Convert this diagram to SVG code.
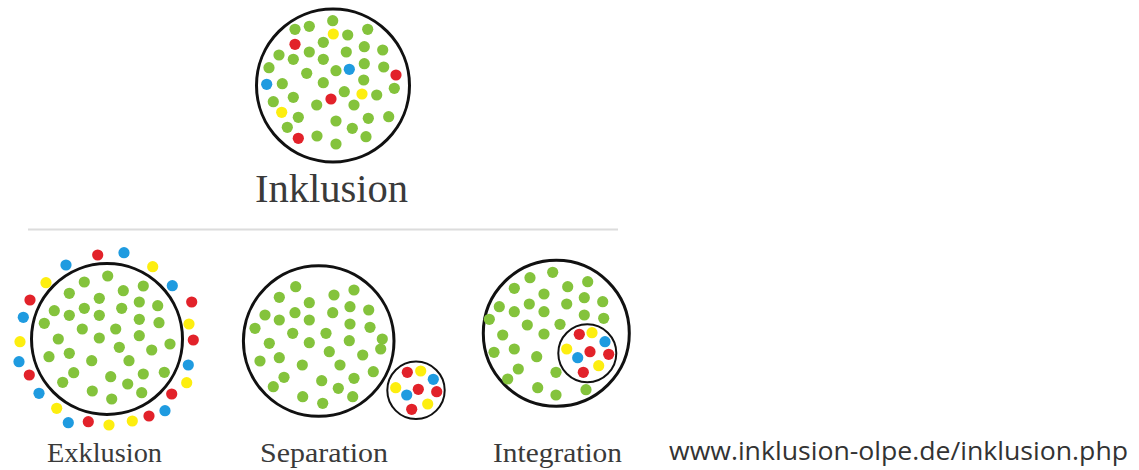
<svg xmlns="http://www.w3.org/2000/svg" width="1139" height="470" viewBox="0 0 1139 470">
<style>
.ring{fill:none;stroke:#111;stroke-width:3}
.ring2{fill:none;stroke:#111;stroke-width:2}
.g{fill:#84c33c}
.r{fill:#e2222a}
.y{fill:#fdee0f}
.b{fill:#1f9be0}
.lbl{font-family:"Liberation Serif","DejaVu Serif",serif;fill:#3a3a3a}
.url{font-family:"Open Sans","Noto Sans","Liberation Sans",sans-serif;fill:#333;font-size:26px}
</style>
<defs>
<circle id="d" r="5.6"/>
</defs>
<rect width="1139" height="470" fill="#fff"/>

<g id="inklusion">
<circle class="ring" cx="333" cy="85.5" r="76.5"/>
<g class="g">
<use href="#d" x="332.7" y="20.7"/><use href="#d" x="295" y="29.3"/><use href="#d" x="309.3" y="26.3"/><use href="#d" x="367.7" y="29.3"/>
<use href="#d" x="347.7" y="35"/><use href="#d" x="323.3" y="42.3"/><use href="#d" x="364.3" y="46.7"/><use href="#d" x="382.7" y="50"/>
<use href="#d" x="279" y="55"/><use href="#d" x="309.3" y="52"/><use href="#d" x="346.3" y="52"/><use href="#d" x="293.3" y="59.3"/>
<use href="#d" x="323.3" y="59.3"/><use href="#d" x="269" y="67.7"/><use href="#d" x="364.3" y="63.7"/><use href="#d" x="383.7" y="67"/>
<use href="#d" x="336" y="70.7"/><use href="#d" x="306.7" y="73.3"/><use href="#d" x="282.3" y="83.7"/><use href="#d" x="363.7" y="80"/>
<use href="#d" x="323.3" y="82.7"/><use href="#d" x="394.3" y="88.3"/><use href="#d" x="344.3" y="91.7"/><use href="#d" x="293.3" y="97.3"/>
<use href="#d" x="273.3" y="101.7"/><use href="#d" x="376.7" y="95"/><use href="#d" x="316.7" y="105"/><use href="#d" x="354" y="105"/>
<use href="#d" x="298.3" y="117.3"/><use href="#d" x="336" y="121"/><use href="#d" x="368.3" y="118.3"/><use href="#d" x="388.7" y="116.7"/>
<use href="#d" x="287.3" y="127.3"/><use href="#d" x="352.3" y="128.3"/><use href="#d" x="317" y="136"/><use href="#d" x="366" y="136.7"/>
<use href="#d" x="336" y="144"/>
</g>
<g class="r"><use href="#d" x="295" y="44.3"/><use href="#d" x="396" y="75"/><use href="#d" x="331" y="99"/><use href="#d" x="298.3" y="138.3"/></g>
<g class="y"><use href="#d" x="333.3" y="34"/><use href="#d" x="362" y="94"/><use href="#d" x="281.7" y="112.3"/></g>
<g class="b"><use href="#d" x="349.3" y="69.3"/><use href="#d" x="266.7" y="84.3"/></g>
<text class="lbl" x="255" y="202" font-size="40" textLength="153" lengthAdjust="spacingAndGlyphs">Inklusion</text>
</g>

<line id="divider" x1="28" y1="229.5" x2="618" y2="229.5" stroke="#dcdcdc" stroke-width="2"/>

<g id="exklusion">
<circle class="ring" cx="107" cy="339" r="75.5"/>
<g class="g">
<use href="#d" x="107.7" y="276"/><use href="#d" x="84.3" y="282"/><use href="#d" x="143.3" y="286"/><use href="#d" x="69.3" y="293.3"/>
<use href="#d" x="123.3" y="290.7"/><use href="#d" x="99.3" y="298.3"/><use href="#d" x="139.3" y="302"/><use href="#d" x="157.7" y="305.7"/>
<use href="#d" x="54.3" y="310.7"/><use href="#d" x="84.3" y="308.3"/><use href="#d" x="121.7" y="308.3"/><use href="#d" x="69.3" y="315.3"/>
<use href="#d" x="99.3" y="315.3"/><use href="#d" x="139.3" y="319.3"/><use href="#d" x="159" y="322.7"/><use href="#d" x="44.3" y="323.3"/>
<use href="#d" x="82.3" y="329"/><use href="#d" x="115.7" y="329"/><use href="#d" x="58.3" y="339"/><use href="#d" x="99.3" y="338"/>
<use href="#d" x="139.3" y="335.7"/><use href="#d" x="170" y="344"/><use href="#d" x="119.3" y="347.3"/><use href="#d" x="151.7" y="350"/>
<use href="#d" x="69.3" y="353.3"/><use href="#d" x="49" y="356.7"/><use href="#d" x="91.7" y="360.7"/><use href="#d" x="129" y="360.7"/>
<use href="#d" x="73.7" y="372.7"/><use href="#d" x="164.3" y="372.3"/><use href="#d" x="143.3" y="374"/><use href="#d" x="110.7" y="376.7"/>
<use href="#d" x="62.7" y="382.3"/><use href="#d" x="127.7" y="384"/><use href="#d" x="92.3" y="391"/><use href="#d" x="141.7" y="392.7"/>
<use href="#d" x="111.7" y="399"/>
</g>
<g class="r">
<use href="#d" x="97.7" y="255"/><use href="#d" x="30" y="300"/><use href="#d" x="191.7" y="302"/><use href="#d" x="193.3" y="340"/>
<use href="#d" x="29.3" y="375"/><use href="#d" x="171.7" y="394"/><use href="#d" x="149" y="416"/><use href="#d" x="88.3" y="421.7"/>
</g>
<g class="y">
<use href="#d" x="152.7" y="266.7"/><use href="#d" x="46" y="282.7"/><use href="#d" x="189" y="324"/><use href="#d" x="20" y="341.7"/>
<use href="#d" x="186.7" y="382.7"/><use href="#d" x="56.7" y="408.3"/><use href="#d" x="109" y="425"/><use href="#d" x="132.3" y="421"/>
</g>
<g class="b">
<use href="#d" x="124" y="252.7"/><use href="#d" x="66" y="265"/><use href="#d" x="172.3" y="285.7"/><use href="#d" x="23.3" y="317.3"/>
<use href="#d" x="19" y="361.7"/><use href="#d" x="188.3" y="365"/><use href="#d" x="39" y="393.3"/><use href="#d" x="165" y="410.7"/>
<use href="#d" x="68.3" y="422.7"/>
</g>
<text class="lbl" x="47" y="462" font-size="28" textLength="115" lengthAdjust="spacingAndGlyphs">Exklusion</text>
</g>

<g id="separation">
<circle class="ring" cx="318.7" cy="341" r="75.3"/>
<g class="g">
<use href="#d" x="295.7" y="286.7"/><use href="#d" x="354" y="290"/><use href="#d" x="279.3" y="297.3"/><use href="#d" x="334" y="295"/>
<use href="#d" x="309.3" y="302.7"/><use href="#d" x="350" y="306.7"/><use href="#d" x="265" y="315"/><use href="#d" x="295" y="312.7"/>
<use href="#d" x="332.7" y="312.7"/><use href="#d" x="368.7" y="310"/><use href="#d" x="279.3" y="320"/><use href="#d" x="309.3" y="320"/>
<use href="#d" x="255" y="328.3"/><use href="#d" x="350" y="324"/><use href="#d" x="370" y="327.3"/><use href="#d" x="292.7" y="333.3"/>
<use href="#d" x="326" y="333.3"/><use href="#d" x="382.3" y="339"/><use href="#d" x="269.3" y="343.3"/><use href="#d" x="309.3" y="342.7"/>
<use href="#d" x="349.3" y="340.7"/><use href="#d" x="380.7" y="349"/><use href="#d" x="329.3" y="351.7"/><use href="#d" x="362.7" y="355"/>
<use href="#d" x="279.3" y="357.7"/><use href="#d" x="260" y="361"/><use href="#d" x="302.3" y="365"/><use href="#d" x="340" y="365"/>
<use href="#d" x="373.3" y="371.7"/><use href="#d" x="284" y="377.3"/><use href="#d" x="354" y="378.3"/><use href="#d" x="321.7" y="380.7"/>
<use href="#d" x="273.3" y="386.7"/><use href="#d" x="338.3" y="388.3"/><use href="#d" x="302.7" y="396.7"/><use href="#d" x="352.7" y="396.7"/>
<use href="#d" x="322.7" y="403.3"/>
</g>
<circle class="ring2" cx="416" cy="390.3" r="28.7" fill="#fff"/>
<g class="r"><use href="#d" x="407.3" y="372.3"/><use href="#d" x="418.3" y="389.3"/><use href="#d" x="436.7" y="391.7"/><use href="#d" x="411.7" y="409.3"/></g>
<g class="y"><use href="#d" x="420.7" y="371"/><use href="#d" x="395.7" y="387.7"/><use href="#d" x="427.7" y="404"/></g>
<g class="b"><use href="#d" x="433.3" y="379.3"/><use href="#d" x="406.7" y="395"/></g>
<text class="lbl" x="260" y="462" font-size="28" textLength="128" lengthAdjust="spacingAndGlyphs">Separation</text>
</g>

<g id="integration">
<circle class="ring" cx="556.3" cy="333.3" r="73"/>
<g class="g">
<use href="#d" x="552.7" y="272.3"/><use href="#d" x="530" y="277.7"/><use href="#d" x="587.7" y="281.7"/><use href="#d" x="514.3" y="288.3"/>
<use href="#d" x="567.7" y="286.7"/><use href="#d" x="544" y="294"/><use href="#d" x="584.3" y="297.7"/><use href="#d" x="602.7" y="301.7"/>
<use href="#d" x="499.3" y="306.7"/><use href="#d" x="529.3" y="304"/><use href="#d" x="566.7" y="304"/><use href="#d" x="514.3" y="311.7"/>
<use href="#d" x="544" y="311.7"/><use href="#d" x="489.3" y="319.3"/><use href="#d" x="584.3" y="315"/><use href="#d" x="603.7" y="318.3"/>
<use href="#d" x="560" y="324.3"/><use href="#d" x="527.3" y="325"/><use href="#d" x="502.7" y="335"/><use href="#d" x="544" y="334"/>
<use href="#d" x="494" y="352.3"/><use href="#d" x="514.3" y="349"/><use href="#d" x="536.7" y="356.7"/><use href="#d" x="518.3" y="369"/>
<use href="#d" x="556" y="372.3"/><use href="#d" x="507.7" y="379"/><use href="#d" x="537.7" y="387.7"/><use href="#d" x="586" y="389.7"/>
<use href="#d" x="556" y="395"/>
</g>
<circle class="ring2" cx="587.3" cy="353.3" r="29"/>
<g class="r"><use href="#d" x="579.3" y="334.3"/><use href="#d" x="590" y="351.7"/><use href="#d" x="608.7" y="354.3"/><use href="#d" x="583.3" y="372.3"/></g>
<g class="y"><use href="#d" x="592" y="332.7"/><use href="#d" x="566.7" y="349"/><use href="#d" x="598.7" y="365.7"/></g>
<g class="b"><use href="#d" x="605" y="341.7"/><use href="#d" x="577.7" y="357.7"/></g>
<text class="lbl" x="493" y="462" font-size="28" textLength="129" lengthAdjust="spacingAndGlyphs">Integration</text>
</g>

<text id="source" class="url" x="669" y="460" textLength="459" lengthAdjust="spacingAndGlyphs">www.inklusion-olpe.de/inklusion.php</text>
</svg>
